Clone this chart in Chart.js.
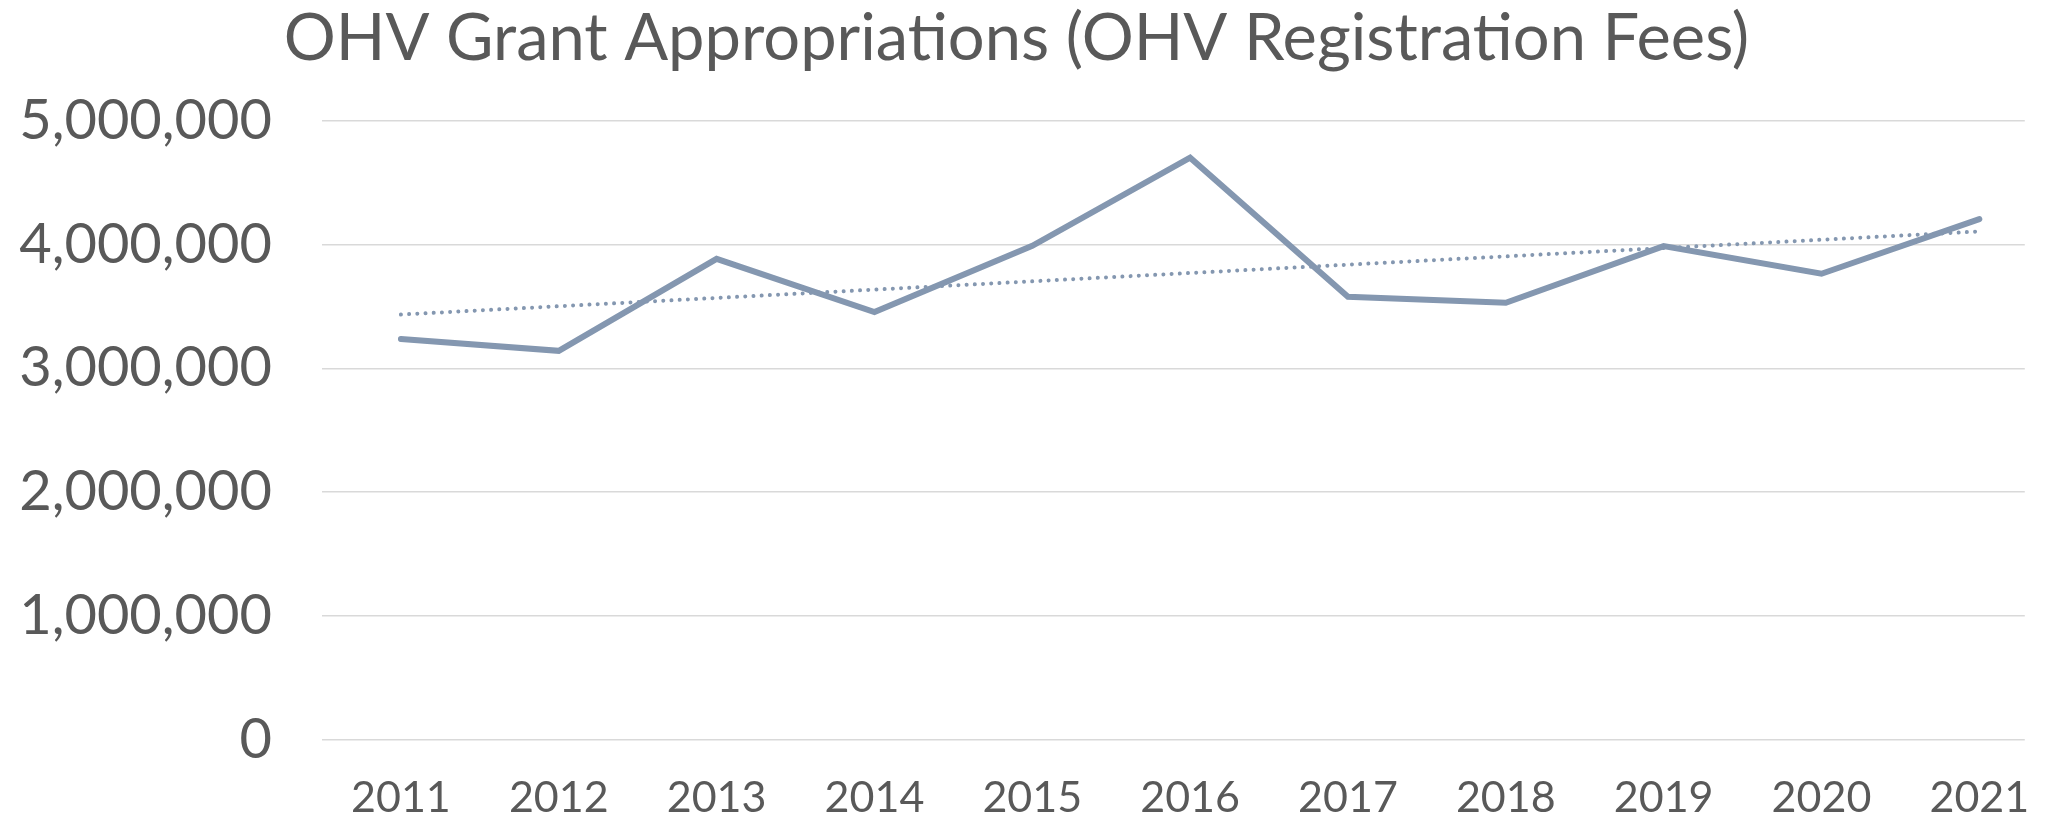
<!DOCTYPE html>
<html>
<head>
<meta charset="utf-8">
<title>OHV Grant Appropriations</title>
<script src="https://cdn.jsdelivr.net/npm/chart.js@4"></script>
<style>
  html, body { margin: 0; padding: 0; background: #fff; }
  #wrap { width: 2063px; height: 827px; position: relative; }
</style>
</head>
<body>
<div id="wrap"><canvas id="myChart"></canvas></div>
<script>
const years = [2011, 2012, 2013, 2014, 2015, 2016, 2017, 2018, 2019, 2020, 2021];
const appropriations = [
  3237000, 3142000, 3886000, 3455000, 3991000, 4703000,
  3579000, 3530000, 3989000, 3765000, 4207000,
];
const yTicks = [0, 1000000, 2000000, 3000000, 4000000, 5000000];

const textColor = "#595959";
const lineColor = "#8497B0";
const fontName = "Lato, 'Open Sans', sans-serif";

// linear trendline (least squares), like the one Excel adds
const linearTrend = (xs, ys) => {
  const n = xs.length;
  const mx = xs.reduce((a, b) => a + b, 0) / n;
  const my = ys.reduce((a, b) => a + b, 0) / n;
  let num = 0;
  let den = 0;
  xs.forEach((x, i) => {
    num += (x - mx) * (ys[i] - my);
    den += (x - mx) * (x - mx);
  });
  const slope = num / den;
  return xs.map((x) => my + slope * (x - mx));
};

const trend = linearTrend(years, appropriations);

const ctx = document.getElementById("myChart").getContext("2d");
const myChart = new Chart(ctx, {
  type: "line",
  data: {
    datasets: [
      {
        label: "Appropriations",
        data: years.map((y, i) => ({ x: y, y: appropriations[i] })),
        borderColor: lineColor,
        borderWidth: 6,
        borderCapStyle: "round",
        borderJoinStyle: "miter",
        pointRadius: 0,
        tension: 0,
        order: 1,
      },
      {
        label: "Linear trend",
        data: years.map((y, i) => ({ x: y, y: trend[i] })),
        borderColor: lineColor,
        borderWidth: 4,
        borderCapStyle: "round",
        borderDash: [0.01, 8.2],
        pointRadius: 0,
        tension: 0,
        order: 2,
      },
    ],
  },
  options: {
    responsive: true,
    maintainAspectRatio: false,
    animation: false,
    layout: { padding: { left: 0, right: 30, top: 0, bottom: 0 } },
    plugins: {
      legend: { display: false },
      tooltip: { enabled: false },
      title: {
        display: true,
        text: "OHV Grant Appropriations (OHV Registration Fees)",
        color: textColor,
        font: { family: fontName, size: 65, weight: "normal", lineHeight: 1.2 },
        padding: { top: 0, bottom: 43 },
      },
    },
    scales: {
      x: {
        type: "linear",
        min: 2010.5,
        max: 2021.288,
        afterFit: (scale) => {
          scale.height = 87.5;
        },
        grid: { display: false, drawTicks: false },
        border: { display: false },
        ticks: {
          stepSize: 1,
          includeBounds: false,
          autoSkip: false,
          maxRotation: 0,
          padding: 33,
          color: textColor,
          font: { family: fontName, size: 43 },
          callback: (value) => (Number.isInteger(value) ? String(value) : ""),
        },
      },
      y: {
        min: 0,
        max: 5000000,
        afterBuildTicks: (scale) => {
          scale.ticks = yTicks.map((v) => ({ value: v }));
        },
        afterFit: (scale) => {
          scale.width = 322;
        },
        grid: { color: "#D9D9D9", lineWidth: 1.6, drawTicks: false },
        border: { display: false },
        ticks: {
          padding: 50,
          color: textColor,
          font: { family: fontName, size: 56 },
          callback: (value) => value.toLocaleString("en-US"),
        },
      },
    },
  },
});
</script>
</body>
</html>
